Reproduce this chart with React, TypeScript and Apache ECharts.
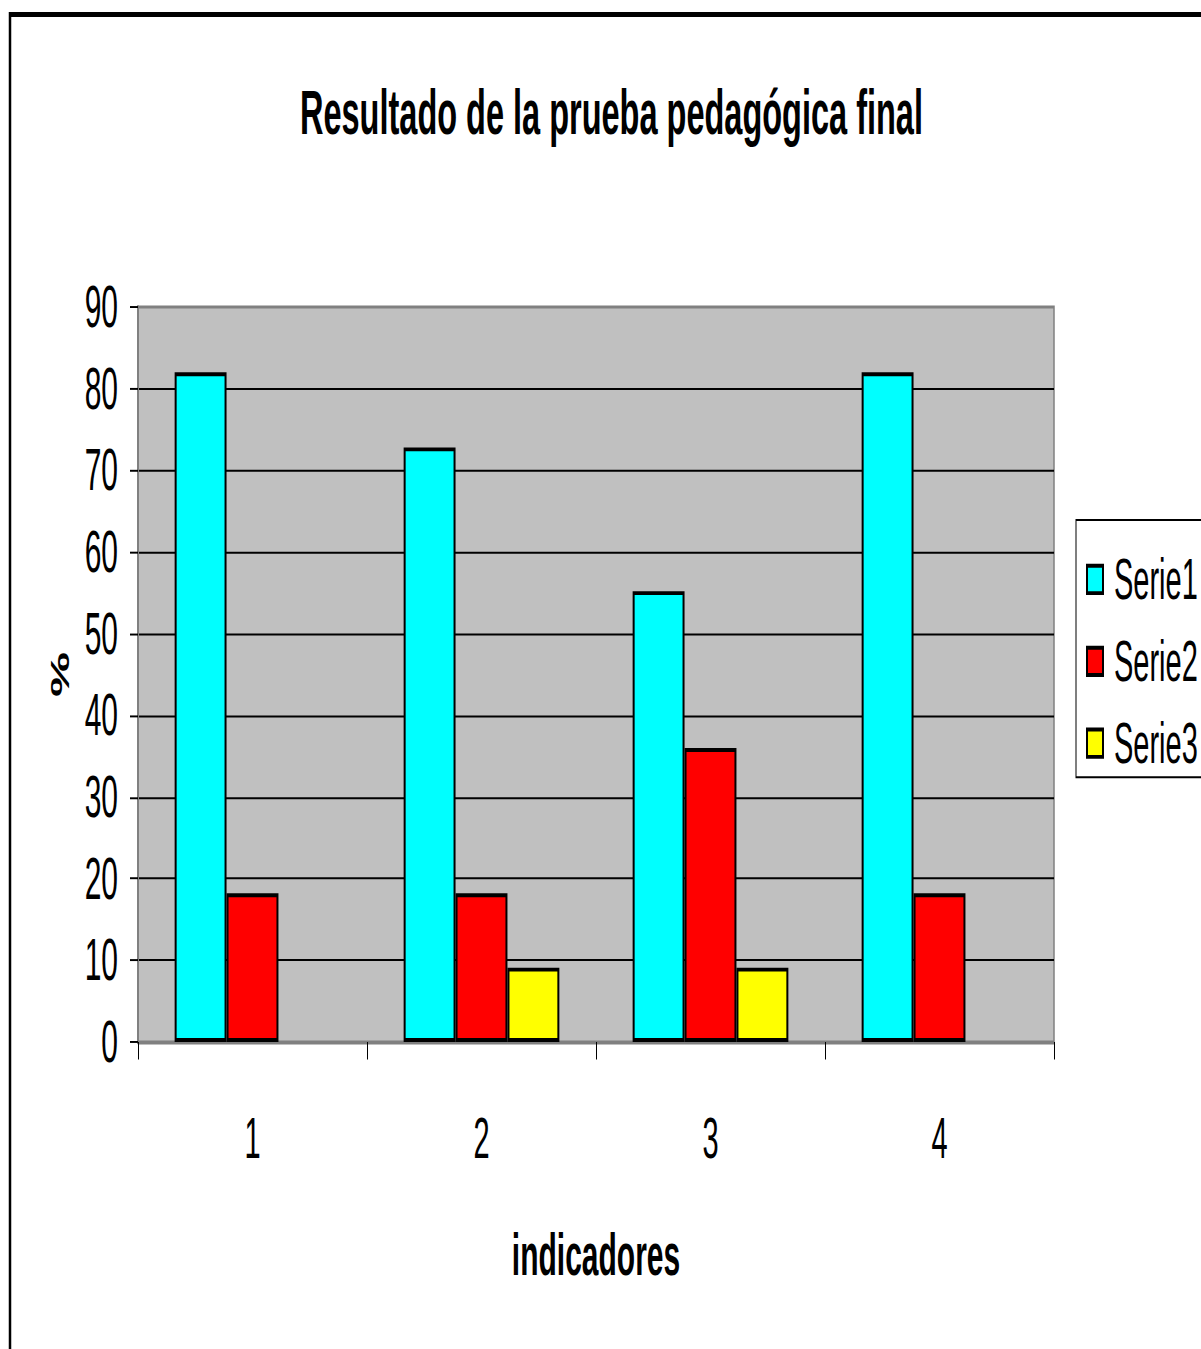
import React, { useEffect, useRef } from "react";
import * as echarts from "echarts";

const categories = ["1", "2", "3", "4"];
const serie1 = [82, 72.8, 55.2, 82];
const serie2 = [18.2, 18.2, 36, 18.2];
const serie3 = [0, 9.1, 9.1, 0];
const seriesNames = ["Serie1", "Serie2", "Serie3"];
const seriesColors = ["#00FFFF", "#FF0000", "#FFFF00"];
const titleText = "Resultado de la prueba pedagógica final";
const xName = "indicadores";
const yName = "%";

const W = 1201;
const H_VIS = 1349;
const H = 692;
const S = H_VIS / H;
const FONT = "'Liberation Sans', Arial, Helvetica, sans-serif";

export default function App() {
  const ref = useRef<HTMLDivElement>(null);
  useEffect(() => {
    if (!ref.current) return;
    const chart = echarts.init(ref.current, undefined, { renderer: "svg" });
    const values = [serie1, serie2, serie3];
    chart.setOption({
      animation: false,
      backgroundColor: "#ffffff",
      textStyle: { fontFamily: FONT, color: "#000" },
      title: {
        text: titleText,
        left: 295,
        top: 36,
        textStyle: { fontFamily: FONT, fontSize: 32.5, fontWeight: "bold", color: "#000" },
      },
      graphic: [
        {
          type: "rect",
          shape: { x: 10, y: 14.5 / S, width: 1400, height: 900 },
          style: { fill: "none", stroke: "#000", lineWidth: 2.5 },
          silent: true,
          z: 100,
        },
      ],
      legend: {
        orient: "vertical",
        left: 1076,
        top: 520 / S,
        padding: [16, 14, 3, 10],
        itemGap: 13,
        itemWidth: 16,
        itemHeight: 14,
        icon: "rect",
        borderColor: "#000",
        borderWidth: 1,
        backgroundColor: "#fff",
        data: seriesNames,
        textStyle: { fontFamily: FONT, fontSize: 29, color: "#000", padding: [0, 0, 0, 6] },
      },
      grid: {
        left: 138,
        top: 307 / S,
        width: 916,
        height: (1042 - 307) / S,
        show: true,
        backgroundColor: "#C0C0C0",
        borderColor: "#808080",
        borderWidth: 1.5,
        containLabel: false,
      },
      xAxis: {
        type: "category",
        data: categories,
        name: xName,
        nameLocation: "middle",
        nameGap: 94,
        nameTextStyle: { fontFamily: FONT, fontSize: 30, fontWeight: "bold", color: "#000" },
        axisLine: { show: true, lineStyle: { color: "#808080", width: 1.5 } },
        axisTick: { show: true, alignWithLabel: false, length: 9, lineStyle: { color: "#000", width: 1 } },
        axisLabel: { fontFamily: FONT, fontSize: 29, color: "#000", margin: 35 },
        splitLine: { show: false },
      },
      yAxis: {
        type: "value",
        min: 0,
        max: 90,
        interval: 10,
        name: yName,
        nameLocation: "middle",
        nameRotate: 90,
        nameGap: 62,
        nameTextStyle: { fontFamily: FONT, fontSize: 26, fontWeight: "bold", color: "#000" },
        axisLine: { show: true, lineStyle: { color: "#808080", width: 2 } },
        axisTick: { show: true, inside: false, length: 8, lineStyle: { color: "#000", width: 1 } },
        axisLabel: { fontFamily: FONT, fontSize: 30, color: "#000", margin: 20 },
        splitLine: {
          show: true,
          showMinLine: false,
          showMaxLine: false,
          lineStyle: { color: "#000", width: 1 },
        },
      },
      series: seriesNames.map((name, i) => ({
        name,
        type: "bar",
        barGap: "0%",
        barCategoryGap: "32%",
        data: values[i].map((v) => (v === 0 ? null : v)),
        itemStyle: { color: seriesColors[i], borderColor: "#000", borderWidth: 2 },
      })),
    });
    return () => chart.dispose();
  }, []);
  return (
    <div
      style={{
        position: "absolute",
        left: 0,
        top: 0,
        width: W,
        height: H,
        transform: `scaleY(${S})`,
        transformOrigin: "top left",
        overflow: "hidden",
      }}
    >
      <div ref={ref} style={{ width: W, height: H }} />
    </div>
  );
}
